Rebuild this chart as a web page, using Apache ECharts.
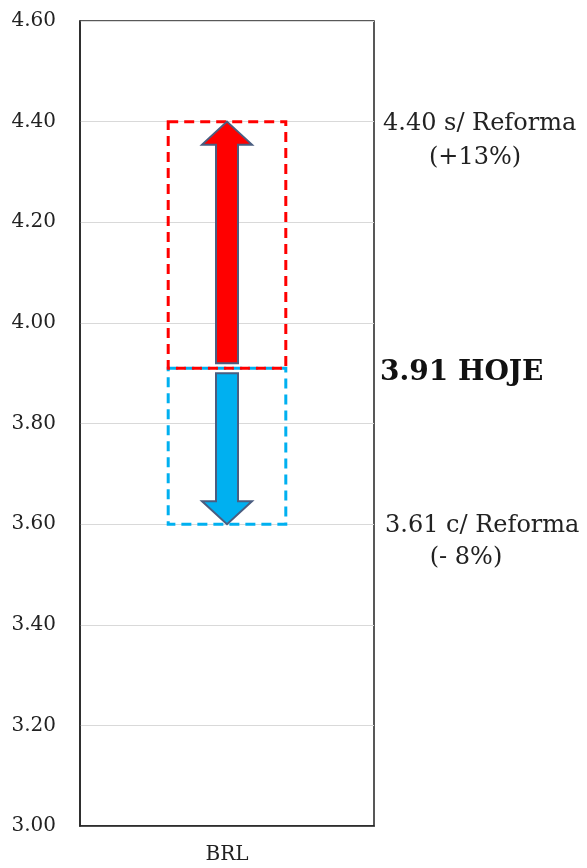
<!DOCTYPE html>
<html>
<head>
<meta charset="utf-8">
<script src="https://cdn.jsdelivr.net/npm/echarts@6/dist/echarts.min.js"></script>
<style>
html, body { margin: 0; background: #fff; }
#myChart { width: 587px; height: 868px; }
</style>
</head>
<body>
<div id="myChart"></div>
<script>
// dados
var categories = ['BRL'];
var semReforma = [4.40];   // topo da faixa
var hoje = [3.91];         // cotação atual
var comReforma = [3.60];   // base da faixa (linha)
var textoSem = ['4.40 s/ Reforma', '(+13%)'];
var textoHoje = ['3.91 HOJE'];
var textoCom = ['3.61 c/ Reforma', '(- 8%)'];

var FONT = '"DejaVu Serif", serif';

function arrowUp(cx, yTip, yEnd, fill) {
    return {
        type: 'polygon',
        shape: { points: [
            [cx, yTip], [cx + 25, yTip + 23], [cx + 11, yTip + 23],
            [cx + 11, yEnd], [cx - 11, yEnd], [cx - 11, yTip + 23], [cx - 25, yTip + 23]
        ] },
        style: { fill: fill, stroke: '#4a5d80', lineWidth: 2 }
    };
}

function arrowDown(cx, yStart, yTip, fill) {
    return {
        type: 'polygon',
        shape: { points: [
            [cx - 11, yStart], [cx + 11, yStart], [cx + 11, yTip - 23], [cx + 25, yTip - 23],
            [cx, yTip], [cx - 25, yTip - 23], [cx - 11, yTip - 23]
        ] },
        style: { fill: fill, stroke: '#4a5d80', lineWidth: 2 }
    };
}

function renderFaixa(params, api) {
    var cat = api.value(0);
    var pTop = api.coord([cat, api.value(1)]);
    var pNow = api.coord([cat, api.value(2)]);
    var pBot = api.coord([cat, api.value(3)]);
    var band = api.size([1, 0])[0];
    var w = band * 0.4;
    var cx = pTop[0];
    var xr = params.coordSys.x + params.coordSys.width;
    return {
        type: 'group',
        children: [
            {
                type: 'rect',
                shape: { x: cx - w / 2, y: pNow[1], width: w, height: pBot[1] - pNow[1] },
                style: { fill: 'none', stroke: '#00b0f0', lineWidth: 3, lineDash: [10, 6] }
            },
            {
                type: 'rect',
                shape: { x: cx - w / 2, y: pTop[1], width: w, height: pNow[1] - pTop[1] },
                style: { fill: 'none', stroke: '#ff0000', lineWidth: 3, lineDash: [10, 6] }
            },
            arrowUp(cx, pTop[1], pNow[1] - 5, '#ff0000'),
            arrowDown(cx, pNow[1] + 5, pBot[1], '#00b0f0'),
            {
                type: 'text',
                style: { text: textoSem[0], x: xr + 9, y: pTop[1] + 2, align: 'left', verticalAlign: 'middle',
                    font: '24px ' + FONT, fill: '#222' }
            },
            {
                type: 'text',
                style: { text: textoSem[1], x: xr + 101, y: pTop[1] + 36, align: 'center', verticalAlign: 'middle',
                    font: '24px ' + FONT, fill: '#222' }
            },
            {
                type: 'text',
                style: { text: textoHoje[0], x: xr + 6, y: pNow[1] + 5, align: 'left', verticalAlign: 'middle',
                    font: 'bold 28px ' + FONT, fill: '#111' }
            },
            {
                type: 'text',
                style: { text: textoCom[0], x: xr + 11, y: pBot[1] + 2, align: 'left', verticalAlign: 'middle',
                    font: '24px ' + FONT, fill: '#222' }
            },
            {
                type: 'text',
                style: { text: textoCom[1], x: xr + 92, y: pBot[1] + 34, align: 'center', verticalAlign: 'middle',
                    font: '24px ' + FONT, fill: '#222' }
            }
        ]
    };
}

var myChart = echarts.init(document.getElementById('myChart'));
var option = {
    animation: false,
    grid: {
        left: 80, right: 213, top: 21, bottom: 42,
        show: true, borderColor: '#222', borderWidth: 1.5
    },
    xAxis: {
        type: 'category',
        data: categories,
        axisLine: { show: true, lineStyle: { color: '#222', width: 1.5 } },
        axisTick: { show: false },
        axisLabel: { fontFamily: FONT, fontSize: 20, color: '#222', margin: 19 }
    },
    yAxis: {
        type: 'value',
        min: 3.0, max: 4.6, interval: 0.2,
        axisLine: { show: true, lineStyle: { color: '#222', width: 1.5 } },
        axisTick: { show: false },
        splitLine: { lineStyle: { color: '#d9d9d9', width: 1 } },
        axisLabel: {
            fontFamily: FONT, fontSize: 20, color: '#222', margin: 24,
            formatter: function (v) { return v.toFixed(2); }
        }
    },
    series: [{
        type: 'custom',
        renderItem: renderFaixa,
        clip: false,
        data: categories.map(function (c, i) {
            return [i, semReforma[i], hoje[i], comReforma[i]];
        })
    }]
};
myChart.setOption(option);
</script>
</body>
</html>
